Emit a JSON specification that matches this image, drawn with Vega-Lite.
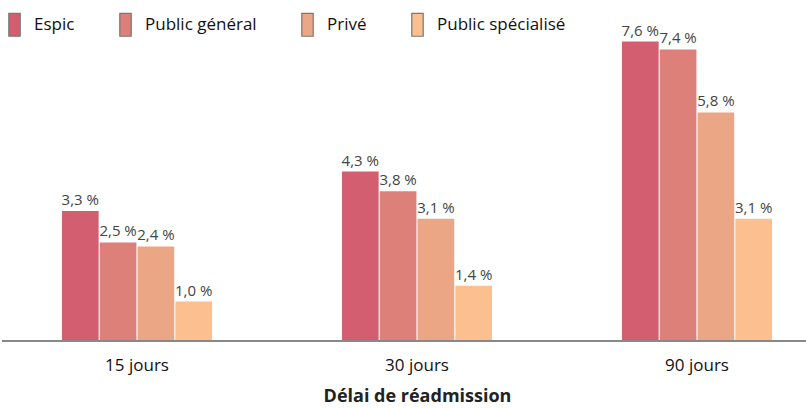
{
  "$schema": "https://vega.github.io/schema/vega-lite/v6.json",
  "width": 805,
  "height": 331,
  "padding": {"left": 1, "top": 10, "right": 0, "bottom": 0},
  "background": "white",
  "data": {"values": [
    {"delai": "15 jours", "type": "Espic", "v": 3.3},
    {"delai": "15 jours", "type": "Public général", "v": 2.5},
    {"delai": "15 jours", "type": "Privé", "v": 2.4},
    {"delai": "15 jours", "type": "Public spécialisé", "v": 1.0},
    {"delai": "30 jours", "type": "Espic", "v": 4.3},
    {"delai": "30 jours", "type": "Public général", "v": 3.8},
    {"delai": "30 jours", "type": "Privé", "v": 3.1},
    {"delai": "30 jours", "type": "Public spécialisé", "v": 1.4},
    {"delai": "90 jours", "type": "Espic", "v": 7.6},
    {"delai": "90 jours", "type": "Public général", "v": 7.4},
    {"delai": "90 jours", "type": "Privé", "v": 5.8},
    {"delai": "90 jours", "type": "Public spécialisé", "v": 3.1}
  ]},
  "transform": [
    {"calculate": "replace(format(datum.v, '.1f'), '.', ',') + ' %'", "as": "lab"}
  ],
  "encoding": {
    "x": {
      "field": "delai", "type": "nominal", "sort": null,
      "scale": {"range": [-5, 835], "paddingInner": 0.464, "paddingOuter": 0.232},
      "axis": {
        "title": "Délai de réadmission", "labelAngle": 0, "domain": false, "ticks": false,
        "labelFont": "Open Sans", "labelFontSize": 17, "labelColor": "#111", "labelPadding": 16,
        "titleFont": "Open Sans", "titleFontSize": 18, "titleFontWeight": "bold", "titleColor": "#222", "titlePadding": 14
      }
    },
    "xOffset": {"field": "type", "type": "nominal", "sort": ["Espic", "Public général", "Privé", "Public spécialisé"], "scale": {"paddingInner": 0.03}},
    "y": {"field": "v", "type": "quantitative", "scale": {"domain": [0, 8.4]}, "axis": null}
  },
  "layer": [
    {
      "mark": {"type": "bar"},
      "encoding": {
        "color": {
          "field": "type", "type": "nominal",
          "sort": ["Espic", "Public général", "Privé", "Public spécialisé"],
          "scale": {"domain": ["Espic", "Public général", "Privé", "Public spécialisé"], "range": ["#d35e6f", "#dd807a", "#eba686", "#fcbf8f"]},
          "legend": {
            "title": null, "orient": "none", "legendX": 0, "legendY": 2, "direction": "horizontal", "columns": 4,
            "symbolType": "M-0.5,-1H0.5V1H-0.5Z", "symbolSize": 520, "symbolStrokeColor": "#777", "symbolStrokeWidth": 1.2, "symbolOpacity": 1,
            "labelFont": "Open Sans", "labelFontSize": 17, "labelColor": "#111", "columnPadding": 38, "labelOffset": 7
          }
        }
      }
    },
    {
      "mark": {"type": "text", "baseline": "bottom", "dy": -3, "font": "Open Sans", "fontSize": 15, "color": "#444"},
      "encoding": {"text": {"field": "lab"}}
    },
    {
      "mark": {"type": "rule", "color": "#888", "strokeWidth": 1.5},
      "encoding": {"y": {"datum": 0}, "x": null, "xOffset": null}
    }
  ],
  "config": {"view": {"stroke": null}}
}
